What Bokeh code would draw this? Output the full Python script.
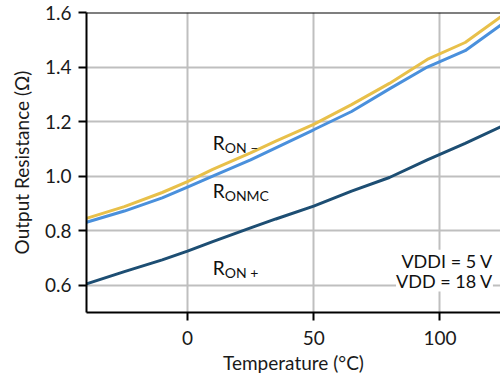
from bokeh.plotting import figure
from bokeh.models import Range1d, FixedTicker, Span, Label, ColumnDataSource, CustomJSTickFormatter
from bokeh.core.properties import value
from bokeh.embed import file_html
from bokeh.resources import INLINE

temperature = [-40, -25, -10, 0, 10, 25, 35, 50, 65, 80, 95, 110, 125]
ron_minus = [0.845, 0.888, 0.94, 0.98, 1.025, 1.085, 1.128, 1.19, 1.262, 1.34, 1.428, 1.49, 1.59]
ron_mc = [0.831, 0.872, 0.92, 0.96, 1.0, 1.06, 1.104, 1.17, 1.237, 1.32, 1.40, 1.46, 1.56]
ron_plus = [0.605, 0.65, 0.693, 0.725, 0.76, 0.81, 0.843, 0.89, 0.945, 0.995, 1.06, 1.12, 1.185]

x_ticks = [0, 50, 100]
y_ticks = [0.6, 0.8, 1.0, 1.2, 1.4, 1.6]

label_main = ["R", "R", "R"]
label_sub = ["ON \u2013", "ONMC", "ON +"]
label_t = [10, 10, 10]
label_r = [1.125, 0.949, 0.666]

cond_text = ["VDDI = 5 V", "VDD = 18 V"]
cond_t = [121, 121]
cond_r = [0.69, 0.617]

FONT = "Lato"
YELLOW = "#E8C04A"
BLUE = "#4A90DC"
DARK = "#1D4E73"

p = figure(width=500, height=376, output_backend="svg", toolbar_location=None,
           x_range=Range1d(-40, 124), y_range=Range1d(0.5, 1.6),
           min_border_left=86, min_border_right=0, min_border_top=12, min_border_bottom=61)
p.outline_line_color = None
p.background_fill_color = "white"
p.border_fill_color = "white"

p.xaxis.ticker = FixedTicker(ticks=x_ticks)
p.yaxis.ticker = FixedTicker(ticks=y_ticks)
p.yaxis.formatter = CustomJSTickFormatter(code="return tick.toFixed(1);")

for ax in (p.xaxis, p.yaxis):
    ax.axis_line_color = "black"
    ax.axis_line_width = 2
    ax.major_tick_line_color = "black"
    ax.major_tick_line_width = 2
    ax.major_tick_out = 8
    ax.major_tick_in = 0
    ax.minor_tick_line_color = None
    ax.major_label_text_font = FONT
    ax.major_label_text_font_size = "19px"
    ax.major_label_text_color = "#1a1a1a"
    ax.axis_label_text_font = FONT
    ax.axis_label_text_font_size = "19px"
    ax.axis_label_text_font_style = "normal"
    ax.axis_label_text_color = "#1a1a1a"

p.xaxis.major_label_standoff = 10
p.yaxis.major_label_standoff = 7
p.xaxis.axis_label = "Temperature (\u00b0C)"
p.yaxis.axis_label = "Output Resistance (\u03a9)"
p.xaxis.axis_label_standoff = 3
p.yaxis.axis_label_standoff = 9

p.xgrid.ticker = FixedTicker(ticks=x_ticks)
p.ygrid.ticker = FixedTicker(ticks=y_ticks)
for g in (p.xgrid, p.ygrid):
    g.grid_line_color = "#BFBFBF"
    g.grid_line_width = 2

p.add_layout(Span(location=1.6, dimension="width", line_color="black", line_width=2))

src = ColumnDataSource(dict(t=temperature, a=ron_minus, b=ron_mc, c=ron_plus))
p.line("t", "c", source=src, line_color=DARK, line_width=3)
p.line("t", "b", source=src, line_color=BLUE, line_width=3)
p.line("t", "a", source=src, line_color=YELLOW, line_width=3)

lsrc = ColumnDataSource(dict(x=label_t, y=label_r, m=label_main, s=label_sub))
p.text("x", "y", text="m", source=lsrc, text_font=value(FONT), text_font_size="19px",
       text_align="left", text_baseline="middle", text_color="#111111")
p.text("x", "y", text="s", source=lsrc, text_font=value(FONT), text_font_size="14px",
       text_align="left", text_baseline="middle", text_color="#111111",
       x_offset=12, y_offset=5)

for txt, xx, yy in zip(cond_text, cond_t, cond_r):
    p.add_layout(Label(x=xx, y=yy, text=txt, text_font=FONT, text_font_size="18px",
                       text_align="right", text_baseline="middle", text_color="#111111",
                       background_fill_color="white", background_fill_alpha=1.0))

open("out.html", "w").write(file_html(p, INLINE))
